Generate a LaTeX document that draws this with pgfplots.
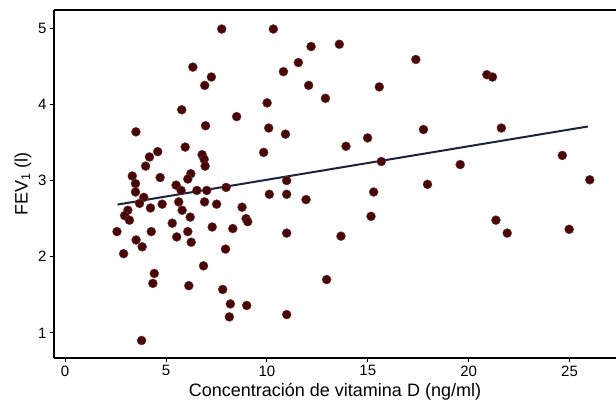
\documentclass[border=0pt]{standalone}
\usepackage{fontspec}
\setmainfont{Liberation Sans}
\usepackage{pgfplots}
\pgfplotsset{compat=1.18}
\definecolor{dotc}{RGB}{72,6,6}
\definecolor{linec}{RGB}{28,34,64}
\begin{document}
\begin{tikzpicture}
\begin{axis}[
  scale only axis,
  width=562pt, height=348pt,
  at={(0,0)}, anchor=south west,
  xmin=-0.55, xmax=27.3, ymin=0.67, ymax=5.24,
  axis lines*=left,
  axis line style={-, line width=1.4pt, black},
  tick align=outside,
  major tick length=4pt,
  tick style={black, line width=0.9pt},
  xtick={0,5,10,15,20,25},
  ytick={1,2,3,4,5},
  /pgf/number format/assume math mode=true,
  tick label style={font=\fontsize{15}{17}\selectfont},
  xlabel={Concentración de vitamina D (ng/ml)},
  ylabel={FEV\textsubscript{1} (l)},
  label style={font=\fontsize{18}{20}\selectfont},
  clip=false,
]
\draw[line width=1.4pt] (rel axis cs:0,1) -- (rel axis cs:1,1);
\addplot[line width=2pt, color=linec] coordinates {(2.6,2.685) (25.9,3.71)};
\addplot[only marks, mark=*, mark size=4.5pt, mark options={fill=dotc, draw=dotc!80!white, line width=0.4pt}] table {
x y
7.76 4.99
10.32 4.99
6.33 4.49
7.25 4.36
6.92 4.25
10.82 4.43
11.56 4.55
12.19 4.76
12.07 4.25
5.78 3.93
10.01 4.02
8.50 3.84
6.96 3.72
10.09 3.69
10.92 3.61
3.51 3.64
4.59 3.38
4.18 3.31
3.99 3.19
5.95 3.44
6.79 3.34
6.89 3.28
6.94 3.19
6.23 3.09
6.08 3.02
4.71 3.04
3.33 3.06
3.49 2.96
3.49 2.85
5.50 2.94
5.75 2.87
6.53 2.87
7.02 2.87
7.98 2.91
9.84 3.37
10.98 3.00
10.12 2.82
10.98 2.82
3.90 2.78
11.94 2.75
13.59 4.79
17.38 4.59
20.90 4.39
21.18 4.36
15.57 4.23
12.90 4.08
17.76 3.67
21.62 3.69
13.92 3.45
14.99 3.56
15.67 3.25
19.58 3.21
24.64 3.33
26.00 3.01
17.96 2.95
15.29 2.85
15.16 2.53
13.67 2.27
12.96 1.70
21.35 2.48
21.91 2.31
24.98 2.36
3.69 2.70
4.81 2.69
5.63 2.72
6.91 2.72
7.51 2.69
8.77 2.65
3.11 2.61
2.95 2.54
3.19 2.48
4.23 2.64
5.80 2.61
6.20 2.52
5.31 2.44
7.29 2.39
8.31 2.37
8.97 2.50
9.05 2.46
2.57 2.33
4.27 2.33
6.08 2.33
10.98 2.31
3.52 2.22
5.53 2.26
6.25 2.19
3.82 2.13
7.95 2.10
2.90 2.04
6.86 1.88
4.42 1.78
4.35 1.65
6.13 1.62
7.81 1.57
8.19 1.38
9.00 1.36
8.14 1.21
10.98 1.24
3.79 0.90
};
\end{axis}
\pgfresetboundingbox
\path (-54pt,-53pt) rectangle (562pt,358pt);
\end{tikzpicture}
\end{document}
